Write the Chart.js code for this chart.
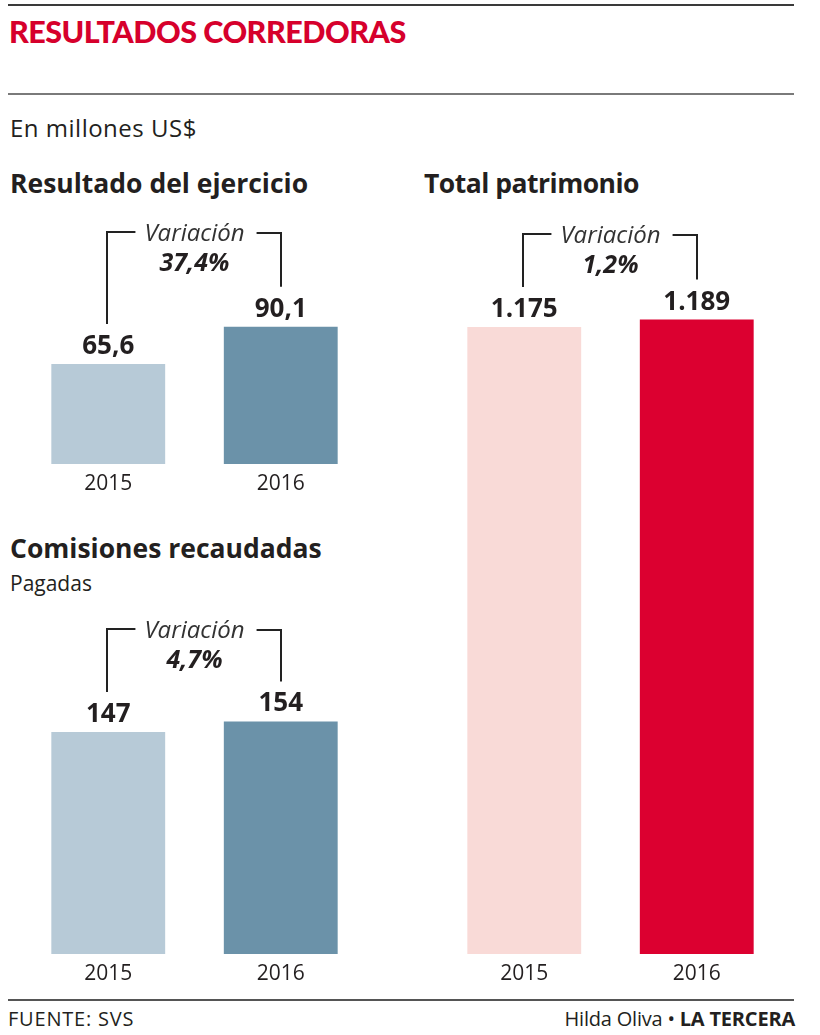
<!DOCTYPE html>
<html><head><meta charset="utf-8">
<script src="https://cdn.jsdelivr.net/npm/chart.js@4"></script>
<style>
html,body{margin:0;padding:0;background:#fff;}
body{width:820px;height:1035px;position:relative;overflow:hidden;font-family:"Open Sans",sans-serif;color:#231f20;}
.t{position:absolute;white-space:nowrap;line-height:1;}
.rule{position:absolute;left:8px;width:786px;}
canvas{position:absolute;}
</style></head><body>
<div class="rule" style="top:4px;height:2px;background:#3a3a3a"></div>
<div class="t" style="left:9px;top:16px;font-family:Lato;font-size:30.5px;font-weight:900;color:#d6002c;letter-spacing:-0.5px">RESULTADOS CORREDORAS</div>
<div class="rule" style="top:93px;height:2px;background:#7a7a7a"></div>
<div class="t" style="left:10px;top:116px;font-size:24px;letter-spacing:0.5px">En millones US$</div>
<div class="t" style="left:10px;top:170px;font-size:26.5px;font-weight:700;letter-spacing:0px">Resultado del ejercicio</div>
<div class="t" style="left:424px;top:170px;font-size:26.5px;font-weight:700;letter-spacing:-0.5px">Total patrimonio</div>
<div class="t" style="left:10px;top:535px;font-size:26.5px;font-weight:700;letter-spacing:0px">Comisiones recaudadas</div>
<div class="t" style="left:10px;top:573px;font-size:21px;">Pagadas</div>
<div class="rule" style="top:999px;height:2px;background:#555"></div>
<div class="t" style="left:8px;top:1009px;font-size:20px;letter-spacing:0.8px">FUENTE: SVS</div>
<div class="t" style="right:25px;top:1009px;font-size:20px;letter-spacing:-0.2px">Hilda Oliva • <b>LA TERCERA</b></div>

<canvas id="cA" width="345" height="290" style="left:22px;top:210px"></canvas>
<canvas id="cB" width="345" height="390" style="left:22px;top:600px"></canvas>
<canvas id="cC" width="345" height="780" style="left:438px;top:210px"></canvas>

<script>
const years = ['2015', '2016'];
const resultado = [65.6, 90.1];
const comisiones = [147, 154];
const patrimonio = [1175, 1189];
const variacionResultado = '37,4%';
const variacionComisiones = '4,7%';
const variacionPatrimonio = '1,2%';

const blueColors = ['#b7cad7', '#6b92a9'];
const redColors = ['#f9dad7', '#dc0030'];

function fmtNum(v, dec) {
  const s = v.toFixed(dec).split('.');
  const int = s[0].replace(/\B(?=(\d{3})+(?!\d))/g, '.');
  return s.length > 1 ? int + ',' + s[1] : int;
}

const annot = {
  id: 'annot',
  afterDatasetsDraw(chart, args, opts) {
    const ctx = chart.ctx;
    const meta = chart.getDatasetMeta(0);
    const data = chart.data.datasets[0].data;
    ctx.save();
    ctx.fillStyle = '#231f20';
    ctx.textAlign = 'center';
    ctx.textBaseline = 'alphabetic';
    ctx.font = 'bold 26px "Open Sans"';
    meta.data.forEach((bar, i) => {
      ctx.fillText(fmtNum(data[i], opts.dec), bar.x, bar.y - 10);
    });
    const b0 = meta.data[0], b1 = meta.data[1];
    const cx = (b0.x + b1.x) / 2;
    const y = opts.bracketY;
    ctx.font = 'italic 24px "Open Sans"';
    const w = ctx.measureText('Variación').width;
    ctx.fillStyle = '#333';
    ctx.fillText('Variación', cx, y + 9);
    ctx.font = 'italic bold 25px "Open Sans"';
    ctx.fillStyle = '#231f20';
    ctx.fillText(opts.variacion, cx, y + 39);
    ctx.strokeStyle = '#222';
    ctx.lineWidth = 2;
    ctx.beginPath();
    ctx.moveTo(Math.round(b0.x) - 1, b0.y - 40);
    ctx.lineTo(Math.round(b0.x) - 1, y);
    ctx.lineTo(cx - w / 2 - 9, y);
    ctx.moveTo(cx + w / 2 + 12, y + 1);
    ctx.lineTo(Math.round(b1.x), y + 1);
    ctx.lineTo(Math.round(b1.x), b1.y - 40);
    ctx.stroke();
    ctx.restore();
  }
};

function makeChart(id, values, colors, max, bracketY, dec, variacion) {
  return new Chart(document.getElementById(id), {
    type: 'bar',
    data: {
      labels: years,
      datasets: [{ data: values, backgroundColor: colors, borderWidth: 0,
        categoryPercentage: 1, barPercentage: 0.66 }]
    },
    options: {
      responsive: false,
      animation: false,
      layout: { padding: 0 },
      plugins: {
        legend: { display: false },
        tooltip: { enabled: false },
        annot: { bracketY, dec, variacion }
      },
      scales: {
        x: {
          grid: { display: false, drawTicks: false },
          border: { display: false },
          ticks: { font: { family: 'Open Sans', size: 21 }, color: '#231f20', padding: 7 },
          afterFit(a) { a.height = 36; }
        },
        y: { display: false, min: 0, max: max }
      }
    },
    plugins: [annot]
  });
}

makeChart('cA', resultado, blueColors, 166.6, 22, 1, variacionResultado);
makeChart('cB', comisiones, blueColors, 234.4, 29, 0, variacionComisiones);
makeChart('cC', patrimonio, redColors, 1394.3, 24, 0, variacionPatrimonio);
</script>
</body></html>
